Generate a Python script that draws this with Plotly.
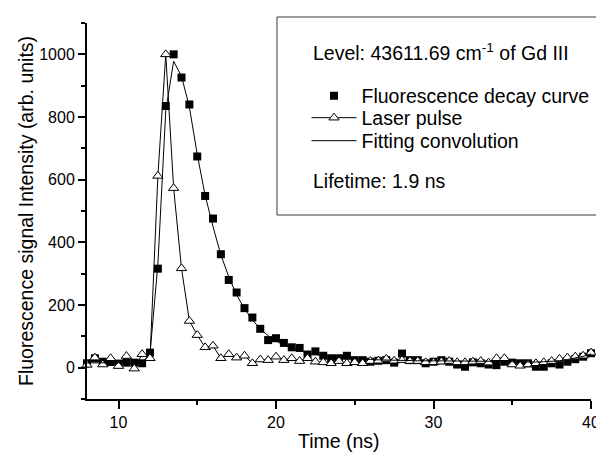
import plotly.graph_objects as go

# ---- data ----
time_ns = [7.5, 8.0, 8.5, 9.0, 9.5, 10.0, 10.5, 11.0, 11.5, 12.0,
           12.5, 13.0, 13.5, 14.0, 14.5, 15.0, 15.5, 16.0, 16.5, 17.0,
           17.5, 18.0, 18.5, 19.0, 19.5, 20.0, 20.5, 21.0, 21.5, 22.0,
           22.5, 23.0, 23.5, 24.0, 24.5, 25.0, 25.5, 26.0, 26.5, 27.0,
           27.5, 28.0, 28.5, 29.0, 29.5, 30.0, 30.5, 31.0, 31.5, 32.0,
           32.5, 33.0, 33.5, 34.0, 34.5, 35.0, 35.5, 36.0, 36.5, 37.0,
           37.5, 38.0, 38.5, 39.0, 39.5, 40.0, 40.5]

fluorescence = [12, 14, 30, 19, 18, 13, 16, 16, 14, 48,
                316, 835, 1000, 926, 840, 674, 548, 476, 362, 280,
                240, 190, 160, 124, 88, 94, 79, 65, 63, 42,
                52, 38, 30, 30, 38, 24, 24, 19, 22, 24,
                16, 45, 24, 24, 14, 19, 24, 19, 10, 3,
                17, 14, 10, 8, 19, 16, 14, 14, 3, 3,
                14, 10, 19, 27, 35, 46, 56]

laser = [27, 9, 32, 10, 30, 5, 37, -3, 43, 30,
         612, 1000, 573, 317, 149, 104, 65, 70, 30, 43,
         32, 38, 14, 26, 24, 35, 24, 30, 21, 30,
         19, 17, 14, 21, 14, 17, 14, 21, 22, 28,
         22, 24, 21, 21, 17, 17, 19, 21, 17, 17,
         19, 21, 16, 30, 30, 10, 6, 10, 14, 17,
         21, 28, 32, 35, 38, 48, 28]

fit = [15, 15, 15, 15, 15, 15, 15, 15, 16, 45,
       330, 820, 978, 930, 832, 680, 550, 450, 360, 290,
       232, 188, 152, 124, 102, 85, 72, 62, 54, 47,
       42, 38, 35, 32, 30, 28, 27, 26, 25, 24,
       24, 23, 23, 22, 22, 22, 21, 21, 21, 20,
       20, 20, 20, 20, 20, 19, 18, 18, 18, 19,
       20, 22, 26, 30, 36, 44, 50]

x_tickvals = [10, 20, 30, 40]
y_tickvals = [0, 200, 400, 600, 800, 1000]

# ---- layout geometry (pixels) ----
W, H = 604, 452
L, R, T, B = 79, 591, 15, 391

def pxx(px):
    return (px - L) / (R - L)

def pxy(py):
    return (B - py) / (B - T)

FONT = "Arial, Liberation Sans, sans-serif"

fig = go.Figure()

fig.add_trace(go.Scatter(
    x=time_ns, y=fluorescence, mode="markers",
    name="Fluorescence decay curve", legend="legend",
    marker=dict(symbol="square", size=8, color="black", line=dict(width=0)),
    cliponaxis=False,
))
fig.add_trace(go.Scatter(
    x=time_ns, y=laser, mode="lines+markers",
    name="Laser pulse", legend="legend2",
    line=dict(color="black", width=1),
    marker=dict(symbol="triangle-up", size=9, color="white",
                line=dict(color="black", width=1)),
    cliponaxis=False,
))
fig.add_trace(go.Scatter(
    x=time_ns, y=fit, mode="lines",
    name="Fitting convolution", legend="legend3",
    line=dict(color="black", width=1),
    cliponaxis=False,
))

def leg(ycenter):
    return dict(
        x=pxx(302), y=pxy(ycenter), xanchor="left", yanchor="middle",
        bgcolor="rgba(0,0,0,0)", borderwidth=0,
        font=dict(family=FONT, size=19.5, color="black"),
        itemwidth=45,
    )

fig.update_layout(
    width=W, height=H,
    margin=dict(l=L, r=W - R, t=T, b=H - B, pad=0),
    paper_bgcolor="white", plot_bgcolor="white",
    font=dict(family=FONT, color="black", size=16),
    showlegend=True,
    legend=leg(88),
    legend2=leg(110),
    legend3=leg(133),
)

fig.update_xaxes(
    range=[8, 40], showgrid=False, zeroline=False,
    showline=True, linecolor="black", linewidth=2,
    ticks="outside", ticklen=8, tickwidth=2, tickcolor="black",
    tickvals=x_tickvals, ticktext=[str(v) for v in x_tickvals],
    tickfont=dict(size=16),
    minor=dict(tickvals=[15, 25, 35], ticks="outside", ticklen=4,
               tickwidth=2, tickcolor="black"),
)
fig.update_yaxes(
    range=[-100, 1100], showgrid=False, zeroline=False,
    showline=True, linecolor="black", linewidth=2,
    ticks="outside", ticklen=7, tickwidth=2, tickcolor="black",
    tickvals=y_tickvals, ticktext=[str(v) for v in y_tickvals],
    tickfont=dict(size=16),
    minor=dict(tickvals=[-100, 100, 300, 500, 700, 900, 1100],
               ticks="outside", ticklen=4, tickwidth=2, tickcolor="black"),
)

# legend frame
fig.add_shape(type="rect", xref="paper", yref="paper",
              x0=pxx(272), x1=pxx(603), y0=pxy(207), y1=pxy(9),
              line=dict(color="#3a3a3a", width=1), fillcolor="rgba(0,0,0,0)")

# texts
fig.add_annotation(xref="paper", yref="paper", x=pxx(307), y=pxy(44),
                   xanchor="left", yanchor="middle", showarrow=False,
                   text="Level: 43611.69 cm<sup>-1</sup> of Gd III",
                   font=dict(size=19.5))
fig.add_annotation(xref="paper", yref="paper", x=pxx(307), y=pxy(173),
                   xanchor="left", yanchor="middle", showarrow=False,
                   text="Lifetime: 1.9 ns", font=dict(size=19.5))
fig.add_annotation(xref="paper", yref="paper", x=0.5, y=0,
                   yshift=-42, xanchor="center", yanchor="middle",
                   showarrow=False, text="Time (ns)", font=dict(size=19.5))
fig.add_annotation(xref="paper", yref="paper", x=0, y=0.5,
                   xshift=-61, xanchor="center", yanchor="middle",
                   textangle=-90, showarrow=False,
                   text="Fluorescence signal Intensity (arb. units)",
                   font=dict(size=19.5))

fig.write_html("out.html")
